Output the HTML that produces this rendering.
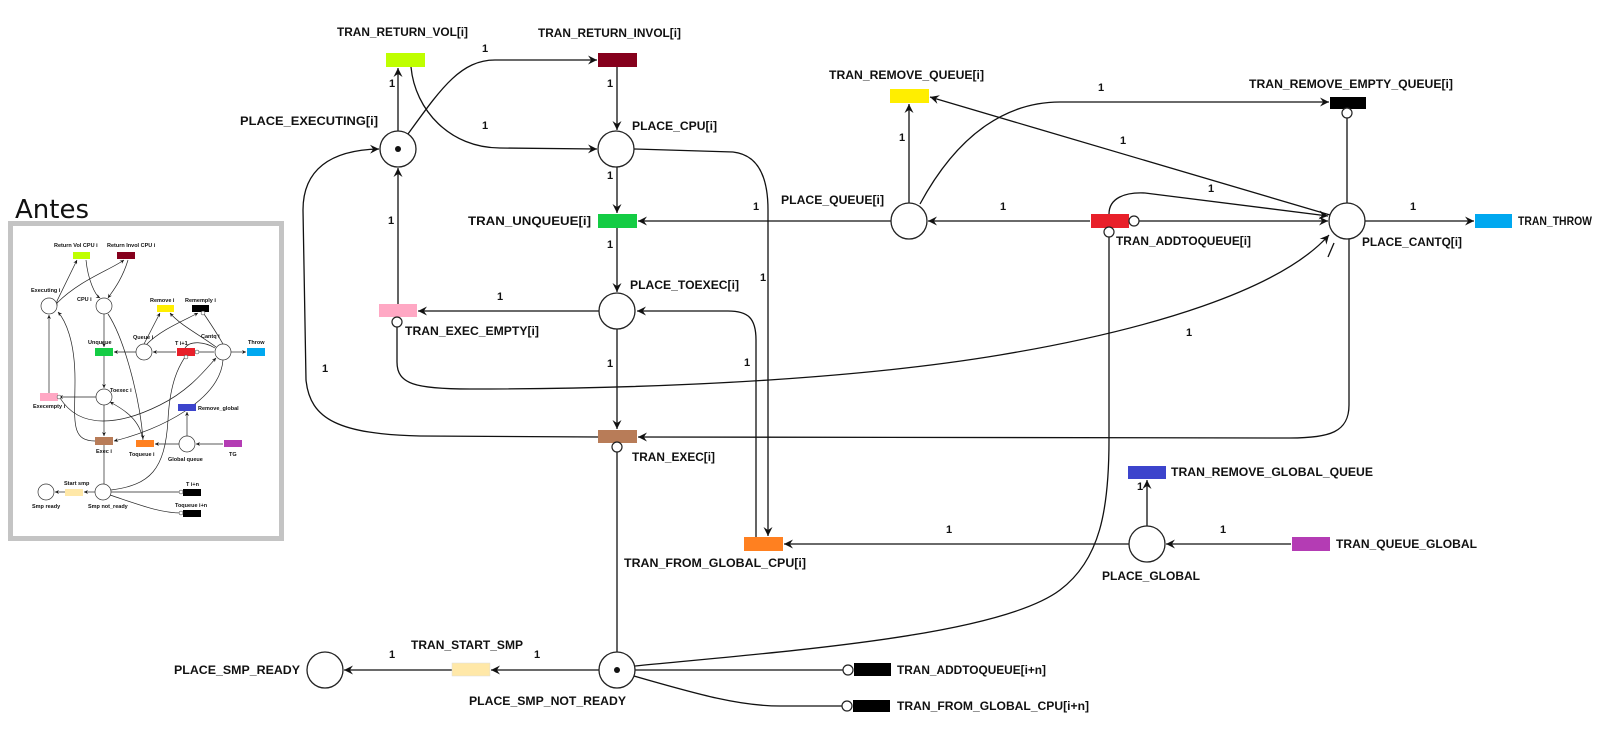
<!DOCTYPE html>
<html><head><meta charset="utf-8"><style>
html,body{margin:0;padding:0;background:#fff;}
svg{display:block;}
text{font-family:"Liberation Sans",Arial,sans-serif;font-weight:bold;fill:#111;}
.l{font-size:12px;}
.n{font-size:11px;}
.s{font-size:5.5px;}
</style></head><body>
<svg width="1610" height="734" viewBox="0 0 1610 734" xmlns="http://www.w3.org/2000/svg">
<defs>
<marker id="a" viewBox="0 0 10 10" refX="10" refY="5" markerWidth="9" markerHeight="9" markerUnits="userSpaceOnUse" orient="auto"><path d="M0,0 L10,5 L0,10 L3.5,5 z" fill="#111"/></marker>
<marker id="b" viewBox="0 0 10 10" refX="10" refY="5" markerWidth="4" markerHeight="4" markerUnits="userSpaceOnUse" orient="auto"><path d="M0,0 L10,5 L0,10 L3.5,5 z" fill="#111"/></marker>
</defs>

<!-- ===== Inset ===== -->
<text x="15" y="218" style="font-size:26px;font-weight:normal;font-family:'DejaVu Sans','Liberation Sans',sans-serif">Antes</text>
<rect x="10.5" y="223.5" width="271" height="315" fill="#fff" stroke="#c4c4c4" stroke-width="5"/>
<g fill="none" stroke="#222" stroke-width="0.7">
<path d="M57,306 L57,301 L77,260" marker-end="url(#b)"/>
<path d="M57,303 C80,280 110,270 124,260" marker-end="url(#b)"/>
<path d="M86,260 C88,280 95,295 100,298" marker-end="url(#b)"/>
<path d="M128,260 C122,280 112,292 108,298" marker-end="url(#b)"/>
<path d="M104,314 L104,347" marker-end="url(#b)"/>
<path d="M108,314 C125,340 140,400 143,439" marker-end="url(#b)"/>
<path d="M104,356 L104,388" marker-end="url(#b)"/>
<path d="M104,405 L104,436" marker-end="url(#b)"/>
<path d="M96,397 L59,397" marker-end="url(#b)"/>
<path d="M49,393 L49,315" marker-end="url(#b)"/>
<path d="M95,441 C70,441 75,420 75,380 C75,340 65,320 58,312" marker-end="url(#b)"/>
<path d="M136,352 L114,352" marker-end="url(#b)"/>
<path d="M176,352 L153,352" marker-end="url(#b)"/>
<path d="M196,352 L214,352"/>
<path d="M231,352 L246,352" marker-end="url(#b)"/>
<path d="M144,344 L160,313" marker-end="url(#b)"/>
<path d="M146,345 C160,330 185,320 198,313" marker-end="url(#b)"/>
<path d="M216,347 C200,335 180,325 170,313" marker-end="url(#b)"/>
<path d="M223,344 C215,330 208,320 204,314"/>
<path d="M185,348 C190,340 205,342 215,348"/>
<path d="M60,398 C80,430 120,425 160,405 C190,390 205,370 216,358" marker-end="url(#b)"/>
<path d="M223,360 C220,400 160,430 114,441" marker-end="url(#b)"/>
<path d="M187,436 L187,412" marker-end="url(#b)"/>
<path d="M223,444 L196,444" marker-end="url(#b)"/>
<path d="M179,444 L155,444" marker-end="url(#b)"/>
<path d="M143,440 C140,420 125,410 110,402" marker-end="url(#b)"/>
<path d="M104,445 L104,484"/>
<path d="M95,492 L84,492" marker-end="url(#b)"/>
<path d="M65,492 L55,492" marker-end="url(#b)"/>
<path d="M111,492 L182,492"/>
<path d="M110,495 C140,505 160,513 182,513"/>
<path d="M111,490 C150,485 165,470 168,420 C170,380 180,365 185,357"/>
</g>
<g stroke="#333" stroke-width="0.7" fill="#fff">
<circle cx="49" cy="306" r="8"/><circle cx="104" cy="306" r="8"/><circle cx="144" cy="352" r="8"/>
<circle cx="223" cy="352" r="8"/><circle cx="104" cy="397" r="8"/><circle cx="187" cy="444" r="8"/>
<circle cx="46" cy="492" r="8"/><circle cx="103" cy="492" r="8"/>
</g>
<rect x="73" y="252" width="17" height="7" fill="#bfff00"/>
<rect x="117" y="252" width="18" height="7" fill="#85001c"/>
<rect x="157" y="305" width="17" height="7" fill="#ffee00"/>
<rect x="192" y="305" width="17" height="7" fill="#000"/>
<rect x="177" y="348" width="18" height="8" fill="#e8202a"/>
<rect x="247" y="348" width="18" height="8" fill="#00a8f0"/>
<rect x="95" y="348" width="18" height="8" fill="#14cc44"/>
<rect x="40" y="393" width="18" height="8" fill="#ffa8c4"/>
<rect x="178" y="404" width="18" height="7" fill="#3c44cc"/>
<rect x="95" y="437" width="18" height="8" fill="#b87c58"/>
<rect x="136" y="440" width="18" height="7" fill="#ff8020"/>
<rect x="224" y="440" width="18" height="7" fill="#b43cb4"/>
<rect x="65" y="489" width="18" height="7" fill="#ffe8a8"/>
<rect x="183" y="489" width="18" height="7" fill="#000"/>
<rect x="183" y="510" width="18" height="7" fill="#000"/>
<g stroke="#333" stroke-width="0.5" fill="#fff">
<circle cx="197" cy="352" r="2"/><circle cx="186" cy="357" r="2"/><circle cx="59" cy="397" r="2"/>
<circle cx="181" cy="492" r="2"/><circle cx="181" cy="513" r="2"/><circle cx="203" cy="313" r="2"/>
</g>
<g class="s">
<text x="54" y="247">Return Vol CPU i</text><text x="107" y="247">Return Invol CPU i</text>
<text x="31" y="292">Executing i</text><text x="77" y="301">CPU i</text>
<text x="150" y="302">Remove i</text><text x="185" y="302">Rememply i</text>
<text x="133" y="339">Queue i</text><text x="175" y="345">T i+1</text><text x="201" y="338">Cantq i</text>
<text x="248" y="344">Throw</text><text x="88" y="344">Unqueue</text><text x="110" y="392">Toexec i</text>
<text x="33" y="408">Execempty i</text><text x="198" y="410">Remove_global</text>
<text x="96" y="453">Exec i</text><text x="129" y="456">Toqueue i</text><text x="168" y="461">Global queue</text>
<text x="229" y="456">TG</text><text x="32" y="508">Smp ready</text><text x="88" y="508">Smp not_ready</text>
<text x="64" y="485">Start smp</text><text x="186" y="486">T i+n</text><text x="175" y="507">Toqueue i+n</text>
</g>

<!-- ===== Main edges ===== -->
<g fill="none" stroke="#111" stroke-width="1.3">
<path d="M398,131 L398,68" marker-end="url(#a)"/>
<path d="M408,134 C440,90 460,60 495,60 L597,60" marker-end="url(#a)"/>
<path d="M411,67 C415,110 450,148 500,148 L597,149" marker-end="url(#a)"/>
<path d="M617,67 L617,130" marker-end="url(#a)"/>
<path d="M617,167 L617,213" marker-end="url(#a)"/>
<path d="M634,149 L733,152 C760,155 768,180 768,210 L768,536" marker-end="url(#a)"/>
<path d="M617,228 L617,292" marker-end="url(#a)"/>
<path d="M599,311 L418,311" marker-end="url(#a)"/>
<path d="M398,304 L398,168" marker-end="url(#a)"/>
<path d="M617,329 L617,429" marker-end="url(#a)"/>
<path d="M598,437 L420,436 C340,434 310,420 306,380 L303,210 C303,170 330,150 379,149" marker-end="url(#a)"/>
<path d="M756,537 L756,340 C756,318 748,311 728,311 L637,311" marker-end="url(#a)"/>
<path d="M397,327 L397,362 C397,384 415,389 470,389 C700,389 880,375 1000,355 C1150,330 1280,290 1329,235" marker-end="url(#a)"/>
<path d="M1349,239 L1349,405 C1349,432 1330,438 1290,438 L638,437" marker-end="url(#a)"/>
<path d="M891,221 L638,221" marker-end="url(#a)"/>
<path d="M1090,221 L928,221" marker-end="url(#a)"/>
<path d="M1138,221 L1328,221" marker-end="url(#a)"/>
<path d="M1365,221 L1474,221" marker-end="url(#a)"/>
<path d="M909,203 L909,104" marker-end="url(#a)"/>
<path d="M920,204 C960,130 1010,102 1060,102 L1329,102" marker-end="url(#a)"/>
<path d="M1330,215 L930,97" marker-end="url(#a)"/>
<path d="M1109,214 C1109,198 1125,192 1145,193 L1328,216" marker-end="url(#a)"/>
<path d="M1347,118 L1347,203"/>
<path d="M1328,257 L1334,243"/>
<path d="M1147,526 L1147,480" marker-end="url(#a)"/>
<path d="M1291,544 L1166,544" marker-end="url(#a)"/>
<path d="M1129,544 L784,544" marker-end="url(#a)"/>
<path d="M617,452 L617,652"/>
<path d="M599,670 L491,670" marker-end="url(#a)"/>
<path d="M452,670 L344,670" marker-end="url(#a)"/>
<path d="M635,670 L843,670"/>
<path d="M634,676 C700,695 740,706 780,706 L842,706"/>
<path d="M635,666 C800,650 1000,635 1060,590 C1100,560 1109,510 1109,440 L1109,237"/>
</g>

<!-- places -->
<g stroke="#222" stroke-width="1.3" fill="#fff">
<circle cx="398" cy="149" r="18"/><circle cx="616" cy="149" r="18"/><circle cx="617" cy="311" r="18"/>
<circle cx="909" cy="221" r="18"/><circle cx="1347" cy="221" r="18"/><circle cx="1147" cy="544" r="18"/>
<circle cx="617" cy="670" r="18"/><circle cx="325" cy="670" r="18"/>
</g>
<circle cx="398" cy="149" r="3" fill="#111"/><circle cx="617" cy="670" r="3" fill="#111"/>

<!-- transitions -->
<rect x="386" y="53" width="39" height="14" fill="#bfff00"/>
<rect x="598" y="53" width="39" height="14" fill="#85001c"/>
<rect x="598" y="214" width="39" height="14" fill="#14cc44"/>
<rect x="379" y="304" width="38" height="13" fill="#ffa8c4"/>
<rect x="598" y="430" width="39" height="13" fill="#b87c58"/>
<rect x="744" y="537" width="39" height="14" fill="#ff8020"/>
<rect x="890" y="89" width="39" height="14" fill="#ffee00"/>
<rect x="1330" y="97" width="36" height="12" fill="#000"/>
<rect x="1091" y="214" width="38" height="14" fill="#e8202a"/>
<rect x="1475" y="214" width="37" height="14" fill="#00a8f0"/>
<rect x="1128" y="466" width="38" height="13" fill="#3c44cc"/>
<rect x="1292" y="537" width="38" height="14" fill="#b43cb4"/>
<rect x="452" y="663" width="38" height="13" fill="#ffe8a8" stroke="#ddd" stroke-width="0.5"/>
<rect x="854" y="663" width="37" height="13" fill="#000"/>
<rect x="853" y="700" width="37" height="12" fill="#000"/>
<!-- inhibitors -->
<g stroke="#222" stroke-width="1.2" fill="#fff">
<circle cx="397" cy="322" r="5"/><circle cx="617" cy="447" r="5"/><circle cx="1347" cy="113" r="5"/>
<circle cx="1134" cy="221" r="5"/><circle cx="1109" cy="232" r="5"/>
<circle cx="848" cy="670" r="5"/><circle cx="847" cy="706" r="5"/>
</g>

<!-- labels -->
<g class="l">
<text x="337" y="36" textLength="131" lengthAdjust="spacingAndGlyphs">TRAN_RETURN_VOL[i]</text>
<text x="538" y="37" textLength="143" lengthAdjust="spacingAndGlyphs">TRAN_RETURN_INVOL[i]</text>
<text x="240" y="125" textLength="138" lengthAdjust="spacingAndGlyphs">PLACE_EXECUTING[i]</text>
<text x="632" y="130" textLength="85" lengthAdjust="spacingAndGlyphs">PLACE_CPU[i]</text>
<text x="468" y="225" textLength="123" lengthAdjust="spacingAndGlyphs">TRAN_UNQUEUE[i]</text>
<text x="630" y="289" textLength="109" lengthAdjust="spacingAndGlyphs">PLACE_TOEXEC[i]</text>
<text x="405" y="335" textLength="134" lengthAdjust="spacingAndGlyphs">TRAN_EXEC_EMPTY[i]</text>
<text x="632" y="461" textLength="83" lengthAdjust="spacingAndGlyphs">TRAN_EXEC[i]</text>
<text x="624" y="567" textLength="182" lengthAdjust="spacingAndGlyphs">TRAN_FROM_GLOBAL_CPU[i]</text>
<text x="781" y="204" textLength="103" lengthAdjust="spacingAndGlyphs">PLACE_QUEUE[i]</text>
<text x="829" y="79" textLength="155" lengthAdjust="spacingAndGlyphs">TRAN_REMOVE_QUEUE[i]</text>
<text x="1249" y="88" textLength="204" lengthAdjust="spacingAndGlyphs">TRAN_REMOVE_EMPTY_QUEUE[i]</text>
<text x="1116" y="245" textLength="135" lengthAdjust="spacingAndGlyphs">TRAN_ADDTOQUEUE[i]</text>
<text x="1362" y="246" textLength="100" lengthAdjust="spacingAndGlyphs">PLACE_CANTQ[i]</text>
<text x="1518" y="225" textLength="74" lengthAdjust="spacingAndGlyphs">TRAN_THROW</text>
<text x="1171" y="476" textLength="202" lengthAdjust="spacingAndGlyphs">TRAN_REMOVE_GLOBAL_QUEUE</text>
<text x="1336" y="548" textLength="141" lengthAdjust="spacingAndGlyphs">TRAN_QUEUE_GLOBAL</text>
<text x="1102" y="580" textLength="98" lengthAdjust="spacingAndGlyphs">PLACE_GLOBAL</text>
<text x="174" y="674" textLength="126" lengthAdjust="spacingAndGlyphs">PLACE_SMP_READY</text>
<text x="411" y="649" textLength="112" lengthAdjust="spacingAndGlyphs">TRAN_START_SMP</text>
<text x="469" y="705" textLength="157" lengthAdjust="spacingAndGlyphs">PLACE_SMP_NOT_READY</text>
<text x="897" y="674" textLength="149" lengthAdjust="spacingAndGlyphs">TRAN_ADDTOQUEUE[i+n]</text>
<text x="897" y="710" textLength="192" lengthAdjust="spacingAndGlyphs">TRAN_FROM_GLOBAL_CPU[i+n]</text>
</g>
<g class="n" text-anchor="middle">
<text x="485" y="52">1</text><text x="392" y="87">1</text><text x="610" y="87">1</text><text x="485" y="129">1</text>
<text x="610" y="179">1</text><text x="391" y="224">1</text><text x="756" y="210">1</text><text x="610" y="248">1</text>
<text x="500" y="300">1</text><text x="763" y="281">1</text><text x="610" y="367">1</text><text x="747" y="366">1</text>
<text x="325" y="372">1</text><text x="1101" y="91">1</text><text x="902" y="141">1</text><text x="1123" y="144">1</text>
<text x="1211" y="192">1</text><text x="1003" y="210">1</text><text x="1413" y="210">1</text><text x="1189" y="336">1</text>
<text x="949" y="533">1</text><text x="1223" y="533">1</text><text x="1140" y="490">1</text>
<text x="392" y="658">1</text><text x="537" y="658">1</text>
</g>
</svg>
</body></html>
